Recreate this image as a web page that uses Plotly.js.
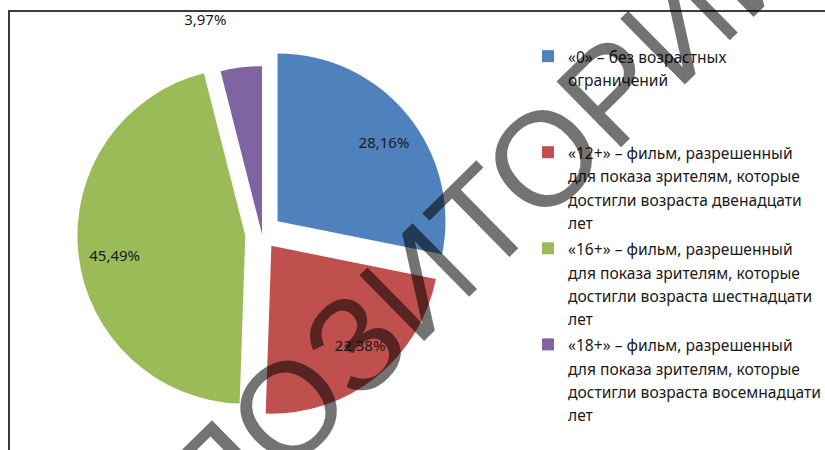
<!DOCTYPE html>
<html>
<head>
<meta charset="utf-8">
<script src="https://cdn.plot.ly/plotly-3.0.1.min.js"></script>
<style>html,body{margin:0;padding:0;background:#fff}#chart{width:825px;height:450px}</style>
</head>
<body>
<div id="chart"></div>
<script>
// Data
var categories = [
  '«0» – без возрастных<br>ограничений',
  '«12+» – фильм, разрешенный<br>для показа зрителям, которые<br>достигли возраста двенадцати<br>лет',
  '«16+» – фильм, разрешенный<br>для показа зрителям, которые<br>достигли возраста шестнадцати<br>лет',
  '«18+» – фильм, разрешенный<br>для показа зрителям, которые<br>достигли возраста восемнадцати<br>лет'
];
var shares = [28.16, 22.38, 45.49, 3.97];
var shareLabels = ['28,16%', '22,38%', '45,49%', '3,97%'];
var colors = ['#4F81BD', '#C0504D', '#9BBB59', '#8064A2'];
var pulls = [0.12, 0.09, 0.10, 0.0];
var watermark = 'РЕПОЗИТОРИЙ';

var W = 825, H = 450;
var cx = 262, cy = 234, half = 188;

// layout helpers: pad label text (nbsp columns, blank lines) so the label sits like the reference
var NB = '\u00a0';
function rep(s, n) { var o = ''; for (var i = 0; i < n; i++) o += s; return o; }
function pad(t, left, right, top, bottom) {
  var line = rep(NB, left) + t + rep(NB, right);
  var out = '';
  for (var i = 0; i < top; i++) out += NB + '<br>';
  out += line;
  for (var j = 0; j < bottom; j++) out += '<br>' + NB;
  return out;
}
var padSpec = [[17, 0, 0, 2], [13, 0, 2, 0], [0, 24, 1, 0], [0, 0, 0, 2]];
var labelText = shareLabels.map(function (t, i) {
  var p = padSpec[i]; return pad(t, p[0], p[1], p[2], p[3]);
});
// legend entries: equalise entry heights (2-line entry gets 2 blank lines)
var legendNames = categories.map(function (c) {
  var n = c.split('<br>').length;
  var s = c; for (var k = n; k < 4; k++) s += '<br>' + NB;
  return '<span style="font-size:15.6px">' + s + '</span>';
});

var trace = {
  type: 'pie',
  values: shares,
  labels: legendNames,
  text: labelText,
  textinfo: 'text',
  hoverinfo: 'none',
  sort: false,
  direction: 'clockwise',
  rotation: 0,
  pull: pulls,
  marker: { colors: colors, line: { width: 0 } },
  textposition: ['inside', 'inside', 'inside', 'outside'],
  insidetextorientation: 'horizontal',
  textfont: { family: 'Noto Sans', size: 15, color: '#1a1a1a' },
  insidetextfont: { family: 'Noto Sans', size: 15, color: '#1a1a1a' },
  outsidetextfont: { family: 'Noto Sans', size: 15, color: '#1a1a1a' },
  domain: { x: [(cx - half) / W, (cx + half) / W], y: [1 - (cy + half) / H, 1 - (cy - half) / H] }
};

var layout = {
  width: W, height: H,
  margin: { l: 0, r: 0, t: 0, b: 0, autoexpand: false },
  paper_bgcolor: '#ffffff',
  font: { family: 'Noto Sans', color: '#1a1a1a' },
  showlegend: true,
  legend: {
    x: 528 / W, xanchor: 'left',
    y: 1 - 38 / H, yanchor: 'top',
    valign: 'top',
    font: { family: 'Noto Sans', size: 17.9, color: '#1a1a1a' },
    bgcolor: 'rgba(0,0,0,0)'
  },
  shapes: [{
    type: 'rect', xref: 'paper', yref: 'paper',
    x0: 9 / W, x1: 1.02, y0: -0.02, y1: 1 - 11 / H,
    line: { color: '#3c3c3c', width: 2 }, fillcolor: 'rgba(0,0,0,0)'
  }],
  annotations: [{
    text: watermark,
    xref: 'paper', yref: 'paper',
    x: 418 / W, y: 1 - 281 / H, xanchor: 'center', yanchor: 'middle',
    showarrow: false, textangle: -44.5,
    font: { family: 'Liberation Sans', size: 134, color: 'rgba(0,0,0,0.55)' }
  }]
};

Plotly.newPlot('chart', [trace], layout, { staticPlot: true });
</script>
</body>
</html>
